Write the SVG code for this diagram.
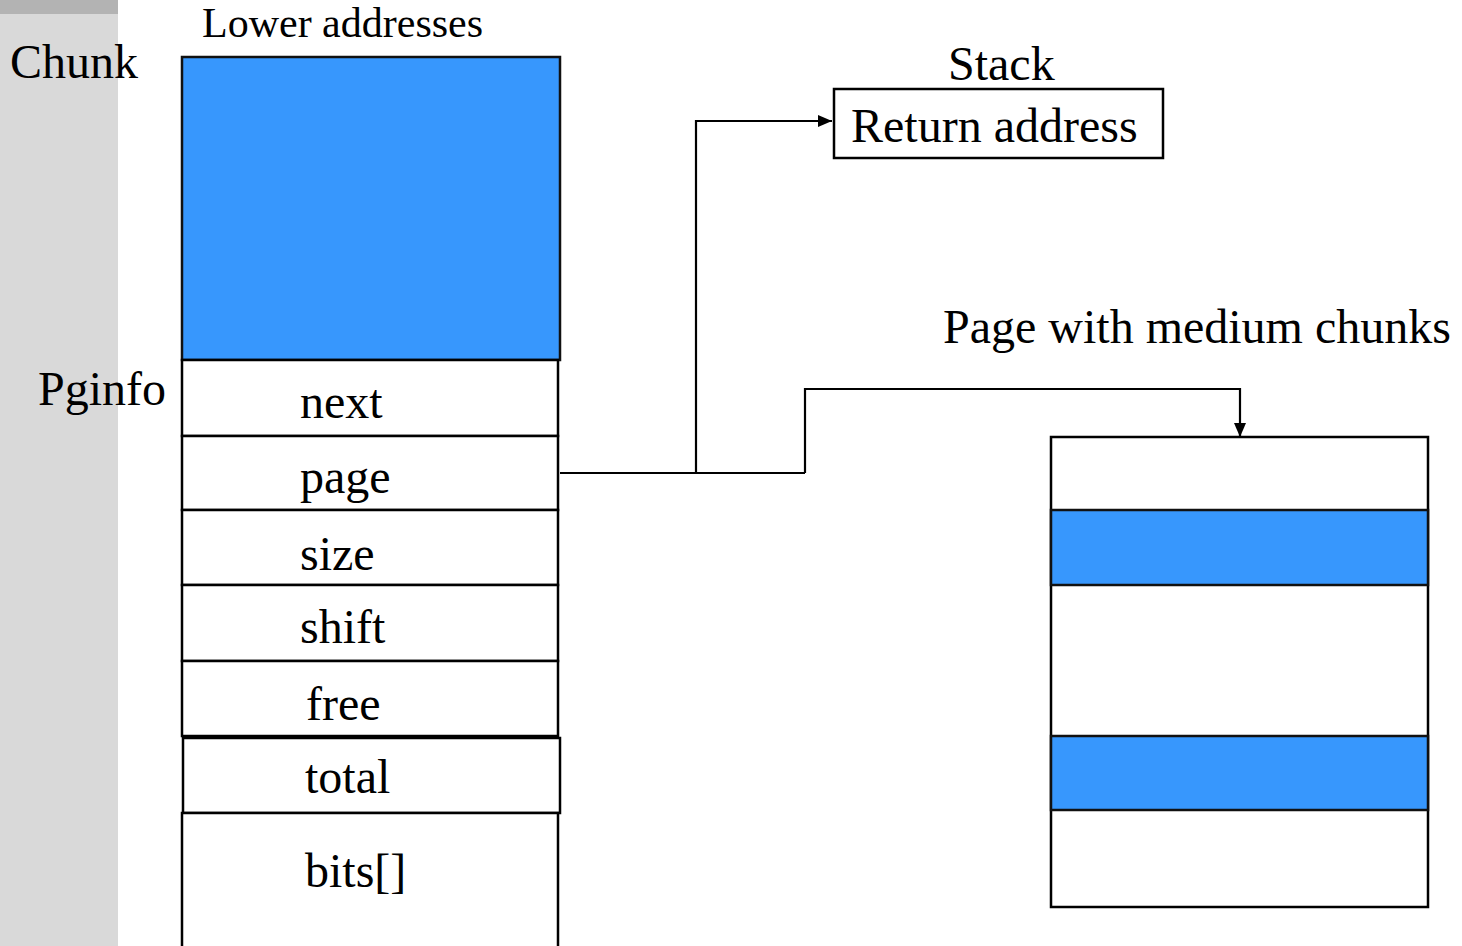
<svg xmlns="http://www.w3.org/2000/svg" width="1462" height="946" viewBox="0 0 1462 946">
  <defs>
    <style>
      .lbl { font-family: "Liberation Serif", "Times New Roman", serif; font-size: 48px; fill: #000; }
      .small { font-size: 42px; }
      .cell { fill: #fff; stroke: #000; stroke-width: 2.5; }
      .blue { fill: #3797fd; stroke: #111; stroke-width: 2.5; }
      .wire { fill: none; stroke: #000; stroke-width: 2.2; }
    </style>
    <marker id="arrow" viewBox="0 0 14 12" refX="14" refY="6" markerWidth="14" markerHeight="12" markerUnits="userSpaceOnUse" orient="auto">
      <path d="M0,0 L14,6 L0,12 Z" fill="#000"/>
    </marker>
  </defs>

  <rect width="1462" height="946" fill="#fff"/>

  <!-- side band -->
  <g id="sidebar">
    <rect x="0" y="0" width="118" height="946" fill="#d9d9d9"/>
    <rect x="0" y="0" width="118" height="14" fill="#b3b3b3"/>
  </g>

  <!-- headings -->
  <text class="lbl small" x="202" y="37">Lower addresses</text>
  <text class="lbl" x="10" y="78">Chunk</text>
  <text class="lbl" x="38" y="405">Pginfo</text>
  <text class="lbl" x="948" y="80">Stack</text>
  <text class="lbl" x="943" y="343">Page with medium chunks</text>

  <!-- chunk with its pginfo header -->
  <g id="chunk">
    <rect class="blue" x="182" y="57" width="378" height="303"/>
  </g>
  <g id="field-next">
    <rect class="cell" x="182" y="360" width="376" height="76"/>
    <text class="lbl" x="300" y="418">next</text>
  </g>
  <g id="field-page">
    <rect class="cell" x="182" y="436" width="376" height="74"/>
    <text class="lbl" x="300" y="493">page</text>
  </g>
  <g id="field-size">
    <rect class="cell" x="182" y="510" width="376" height="75" stroke-width="3"/>
    <text class="lbl" x="300" y="570">size</text>
  </g>
  <g id="field-shift">
    <rect class="cell" x="182" y="585" width="376" height="76" stroke-width="3"/>
    <text class="lbl" x="300" y="643">shift</text>
  </g>
  <g id="field-free">
    <rect class="cell" x="182" y="661" width="376" height="75" stroke-width="3"/>
    <text class="lbl" x="306" y="720">free</text>
  </g>
  <g id="field-total">
    <rect class="cell" x="183" y="738" width="377" height="75" stroke-width="3"/>
    <text class="lbl" x="305" y="793">total</text>
  </g>
  <g id="field-bits">
    <path d="M182,948 V813 H558 V948" fill="#fff" stroke="#000" stroke-width="2.5"/>
    <text class="lbl" x="305" y="887">bits[]</text>
  </g>

  <!-- stack slot -->
  <g id="return-address">
    <rect class="cell" x="834" y="89" width="329" height="69"/>
    <text class="lbl" x="851" y="142">Return address</text>
  </g>

  <!-- page holding medium chunks -->
  <g id="medium-page">
    <rect class="cell" x="1051" y="437" width="377" height="470"/>
    <rect class="blue" x="1051" y="510" width="377" height="75"/>
    <rect class="blue" x="1051" y="736" width="377" height="74"/>
  </g>

  <!-- pointers out of the page field -->
  <g id="connectors">
    <path class="wire" d="M560,473 H805"/>
    <path class="wire" d="M696,473 V121 H832" marker-end="url(#arrow)"/>
    <path class="wire" d="M805,473 V389 H1240 V437" marker-end="url(#arrow)"/>
  </g>
</svg>
